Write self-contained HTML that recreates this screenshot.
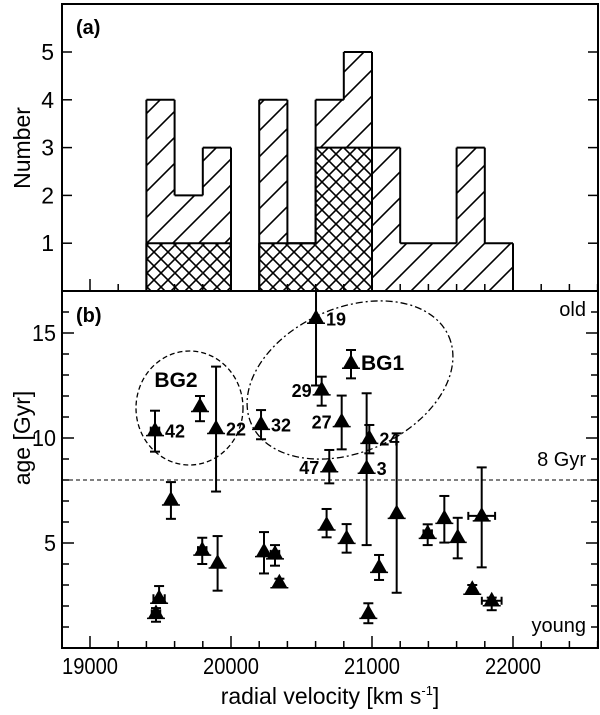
<!DOCTYPE html>
<html><head><meta charset="utf-8">
<style>
html,body{margin:0;padding:0;background:#fff;}
svg{display:block;font-family:"Liberation Sans",sans-serif;}
</style></head>
<body>
<svg id="chart" width="600" height="715" viewBox="0 0 600 715">
<defs>
<pattern id="diag" patternUnits="userSpaceOnUse" width="26" height="26">
<path d="M-2,28 L28,-2 M-2,2 L2,-2 M24,28 L28,24" stroke="#000" stroke-width="1.6"/>
</pattern>
<pattern id="cross" patternUnits="userSpaceOnUse" width="14" height="14">
<path d="M0,0 L14,14 M14,0 L0,14" stroke="#000" stroke-width="1.6"/>
</pattern>
</defs>
<g id="layer"></g>
</svg>
<script>
// ---- panel (a) data ----
const binStarts = [19400,19600,19800,20000,20200,20400,20600,20800,21000,21200,21400,21600,21800];
const binTotal  = [4,2,3,0,4,1,4,5,3,1,1,3,1];
const binGroup  = [1,1,1,0,1,1,3,3,0,0,0,0,0];
const binWidth = 200;
const countTicks = [1,2,3,4,5];
// ---- panel (b) data ----
const ptVel   = [19461,19780,19894,19574,19490,19468,19796,19905,20213,20234,20312,20343,20603,20643,20851,20785,20981,20962,20697,21175,20678,20820,21050,20974,21395,21513,21608,21778,21711,21849];
const ptAge   = [10.35,11.5,10.45,7.05,2.37,1.65,4.66,4.05,10.65,4.59,4.48,3.11,15.7,12.29,13.56,10.78,9.98,8.56,8.63,6.41,5.86,5.22,3.84,1.65,5.46,6.17,5.27,6.29,2.8,2.25];
const ptAgeHi = [11.3,12.0,13.4,7.9,2.95,1.9,5.25,5.33,11.33,5.52,4.9,3.3,17.6,12.92,14.19,12.02,10.62,12.13,9.43,10.22,6.62,5.9,4.43,2.13,5.89,7.24,6.2,8.6,3.0,2.4];
const ptAgeLo = [9.35,10.8,7.45,6.15,2.2,1.25,4.0,2.73,9.94,3.55,3.92,2.95,12.5,11.54,12.84,9.46,9.27,4.9,7.84,2.63,5.27,4.54,3.24,1.18,4.9,5.02,4.27,3.84,2.6,1.8];
const ptVelErr= [30,0,0,0,40,30,30,0,0,0,30,0,0,0,0,0,0,0,0,0,0,0,0,0,30,0,0,95,0,70];
const ptLabel = ["42","","22","","","","","","32","","","","19","29","BG1","27","24","3","47","","","","","","","","","","",""];
const ptLabelSide = ["r","","r","","","","","","r","","","","r","l","r","l","r","r","l","","","","","","","","","","",""];
const velTicks = [19000,20000,21000,22000];
const ageTicks = [5,10,15];
const oldYoungRef = 8;

const NS="http://www.w3.org/2000/svg";
const layer=document.getElementById('layer');
function el(tag,attrs,parent){const e=document.createElementNS(NS,tag);for(const k in attrs)e.setAttribute(k,attrs[k]);(parent||layer).appendChild(e);return e;}

const L=62,R=598,TA=4,MID=291,BB=648;
const xs=v=>90+(v-19000)*0.141;
const ya=c=>MID-c*47.8;
const yb=a=>BB-a*21;

function stepOutline(h){
  let d='';
  for(let i=0;i<=binStarts.length;i++){
    const prev=i>0?h[i-1]:0, cur=i<h.length?h[i]:0;
    const edge=i<binStarts.length?binStarts[i]:binStarts[i-1]+binWidth;
    if(prev!==cur) d+=`M${xs(edge)},${ya(prev)} L${xs(edge)},${ya(cur)} `;
    if(i<h.length&&cur>0) d+=`M${xs(edge)},${ya(cur)} L${xs(edge+binWidth)},${ya(cur)} `;
  }
  return d;
}

// ---- panel (a) histogram ----
const gA=el('g',{});


binStarts.forEach((s,i)=>{
  if(binTotal[i]>0){
    const r=el('rect',{x:xs(s),y:ya(binTotal[i]),width:xs(s+binWidth)-xs(s)+0.5,height:ya(0)-ya(binTotal[i]),fill:'url(#diag)',stroke:'none'},gA);
    
    
  }
});
binStarts.forEach((s,i)=>{
  if(binGroup[i]>0){
    el('rect',{x:xs(s),y:ya(binGroup[i]),width:xs(s+binWidth)-xs(s)+0.5,height:ya(0)-ya(binGroup[i]),fill:'#fff',stroke:'none'},gA);
    const r2=el('rect',{x:xs(s),y:ya(binGroup[i]),width:xs(s+binWidth)-xs(s)+0.5,height:ya(0)-ya(binGroup[i]),fill:'url(#cross)',stroke:'none'},gA);
    
    
  }
});
el('path',{d:stepOutline(binTotal),fill:'none',stroke:'#000','stroke-width':2},gA);
el('path',{d:stepOutline(binGroup),fill:'none',stroke:'#000','stroke-width':2},gA);

// ---- frames ----
const fa=el('rect',{x:L,y:TA,width:R-L,height:MID-TA,fill:'none',stroke:'#000','stroke-width':2});

const fb=el('rect',{x:L,y:MID,width:R-L,height:BB-MID,fill:'none',stroke:'#000','stroke-width':2});


for(let v=18800;v<=22600;v+=200){
  const x=xs(v); if(x<L||x>R)continue;
  const major=(v%1000===0);const len=major?12:7;
  el('line',{x1:x,y1:BB,x2:x,y2:BB-len,stroke:'#000','stroke-width':1.5});
  el('line',{x1:x,y1:MID,x2:x,y2:MID-len,stroke:'#000','stroke-width':1.5});
}
velTicks.forEach(v=>{
  const t=el('text',{x:xs(v),y:BB+26,'text-anchor':'middle','font-size':23,textLength:56,lengthAdjust:'spacingAndGlyphs'});
  t.textContent=v;
});
countTicks.forEach(c=>{
  el('line',{x1:L,y1:ya(c),x2:L+10,y2:ya(c),stroke:'#000','stroke-width':1.5});
  el('line',{x1:R,y1:ya(c),x2:R-10,y2:ya(c),stroke:'#000','stroke-width':1.5});
  const t=el('text',{x:L-8,y:ya(c)+8,'text-anchor':'end','font-size':23});
  t.textContent=c;
});
for(let a=1;a<17;a++){
  const len=(a%5===0)?12:7;
  el('line',{x1:L,y1:yb(a),x2:L+len,y2:yb(a),stroke:'#000','stroke-width':1.5});
  el('line',{x1:R,y1:yb(a),x2:R-len,y2:yb(a),stroke:'#000','stroke-width':1.5});
}
ageTicks.forEach(a=>{
  const t=el('text',{x:L-6,y:yb(a)+8,'text-anchor':'end','font-size':23,textLength:a>=10?24:12,lengthAdjust:'spacingAndGlyphs'});
  t.textContent=a;
});

const ref=el('line',{x1:L,y1:yb(oldYoungRef),x2:R,y2:yb(oldYoungRef),stroke:'#000','stroke-width':1,'stroke-dasharray':'4,3'});


const e2=el('ellipse',{cx:189.5,cy:408,rx:53.5,ry:57,fill:'none',stroke:'#000','stroke-width':1.3,'stroke-dasharray':'5,3'});

const e1=el('ellipse',{cx:350,cy:380,rx:108,ry:72,fill:'none',stroke:'#000','stroke-width':1.3,'stroke-dasharray':'7,3,2,3',transform:'rotate(-24 350 380)'});


const gB=el('g',{});

ptVel.forEach((v,i)=>{
  const x=xs(v),y=yb(ptAge[i]);
  const g=el('g',{},gB);
  
  
  const yh=Math.max(yb(ptAgeHi[i]),MID), yl=yb(ptAgeLo[i]);
  el('line',{x1:x,y1:yh,x2:x,y2:yl,stroke:'#000','stroke-width':2},g);
  if(yb(ptAgeHi[i])>MID) el('line',{x1:x-5,y1:yh,x2:x+5,y2:yh,stroke:'#000','stroke-width':2},g);
  el('line',{x1:x-5,y1:yl,x2:x+5,y2:yl,stroke:'#000','stroke-width':2},g);
  if(ptVelErr[i]>0){
    const x1=xs(v-ptVelErr[i]),x2=xs(v+ptVelErr[i]);
    el('path',{d:`M${x1},${y-4} L${x1},${y+4} M${x1},${y} L${x2},${y} M${x2},${y-4} L${x2},${y+4}`,stroke:'#000','stroke-width':2,fill:'none'},g);
  }
  el('line',{x1:x-9,y1:y+5,x2:x+9,y2:y+5,stroke:'#000','stroke-width':1.5},g);
  el('path',{d:`M${x},${y-9} L${x+8},${y+5} L${x-8},${y+5} Z`,fill:'#000'},g);
  if(ptLabel[i]){
    const big=ptLabel[i]==='BG1';
    const t=el('text',{x:ptLabelSide[i]==='r'?x+10:x-10,y:y+7,'text-anchor':ptLabelSide[i]==='r'?'start':'end','font-size':big?21:18,'font-weight':'bold'},g);
    t.textContent=ptLabel[i];
  }
});

function txt(x,y,s,size,name,extra){const t=el('text',Object.assign({x:x,y:y,'font-size':size},extra||{}));t.textContent=s;return t;}
txt(176,387,'BG2',21,'bg2-label',{'font-weight':'bold','text-anchor':'middle'});
txt(76,34,'(a)',20,'panel-a-label',{'font-weight':'bold'});
txt(76,322,'(b)',20,'panel-b-label',{'font-weight':'bold'});
txt(586,316,'old',20,'old-label',{'text-anchor':'end'});
txt(586,466,'8 Gyr',20,'8-gyr-label',{'text-anchor':'end'});
txt(586,632,'young',20,'young-label',{'text-anchor':'end'});
txt(30,148,'Number',23,'y-axis-title-number',{'text-anchor':'middle',transform:'rotate(-90 30 148)'});
txt(30,438,'age [Gyr]',23,'y-axis-title-age',{'text-anchor':'middle',transform:'rotate(-90 30 438)'});
const xt=el('text',{x:330,y:704,'text-anchor':'middle','font-size':23});

xt.innerHTML='radial velocity [km s<tspan dy="-9" font-size="13">-1</tspan><tspan dy="9">]</tspan>';
</script>
</body></html>
